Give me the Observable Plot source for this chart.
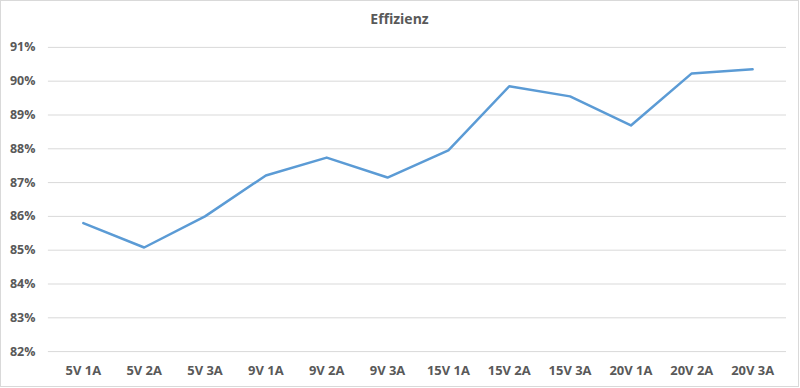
<!DOCTYPE html>
<html>
<head>
<meta charset="utf-8">
<script src="https://cdn.jsdelivr.net/npm/d3@7"></script>
<script src="https://cdn.jsdelivr.net/npm/@observablehq/plot@0.6"></script>
<style>
  html, body { margin: 0; padding: 0; background: #fff; }
  #wrap { position: relative; width: 799px; height: 387px; box-sizing: border-box; border: 1px solid #d9d9d9; overflow: hidden; }
  #title { position: absolute; left: 0; right: 0; top: 8px; text-align: center; font-family: "Open Sans", sans-serif; font-size: 14px; font-weight: bold; color: #595959; }
  #chart { position: absolute; left: -1px; top: -1px; }
</style>
</head>
<body>
<div id="wrap">
  <div id="title">Effizienz</div>
  <div id="chart"></div>
</div>
<script>
const categories = ["5V 1A", "5V 2A", "5V 3A", "9V 1A", "9V 2A", "9V 3A", "15V 1A", "15V 2A", "15V 3A", "20V 1A", "20V 2A", "20V 3A"];
const efficiency = [85.8, 85.08, 86.0, 87.21, 87.74, 87.15, 87.95, 89.85, 89.55, 88.69, 90.23, 90.35];
const yTicks = [82, 83, 84, 85, 86, 87, 88, 89, 90, 91];

const data = categories.map((c, i) => ({ cat: c, value: efficiency[i] }));

const chart = Plot.plot({
  width: 800,
  height: 388,
  marginLeft: 48,
  marginRight: 12,
  marginTop: 47,
  marginBottom: 36,
  style: { fontFamily: "Open Sans, sans-serif", fontSize: "12px", color: "#595959", background: "transparent" },
  x: { type: "point", domain: categories, padding: 0.5, label: null },
  y: { domain: [82, 91], label: null },
  marks: [
    Plot.gridY(yTicks, { stroke: "#d9d9d9", strokeOpacity: 1, strokeWidth: 1 }),
    Plot.axisY(yTicks, { tickSize: 0, tickPadding: 13, tickFormat: d => d + "%", fill: "#595959", fontWeight: "bold", fontSize: 12.5 }),
    Plot.axisX({ tickSize: 0, tickPadding: 14, fill: "#595959", fontWeight: "bold", fontSize: 13 }),
    Plot.line(data, { x: "cat", y: "value", stroke: "#5b9bd5", strokeWidth: 2.5, curve: "linear" })
  ]
});
document.getElementById("chart").appendChild(chart);
</script>
</body>
</html>
